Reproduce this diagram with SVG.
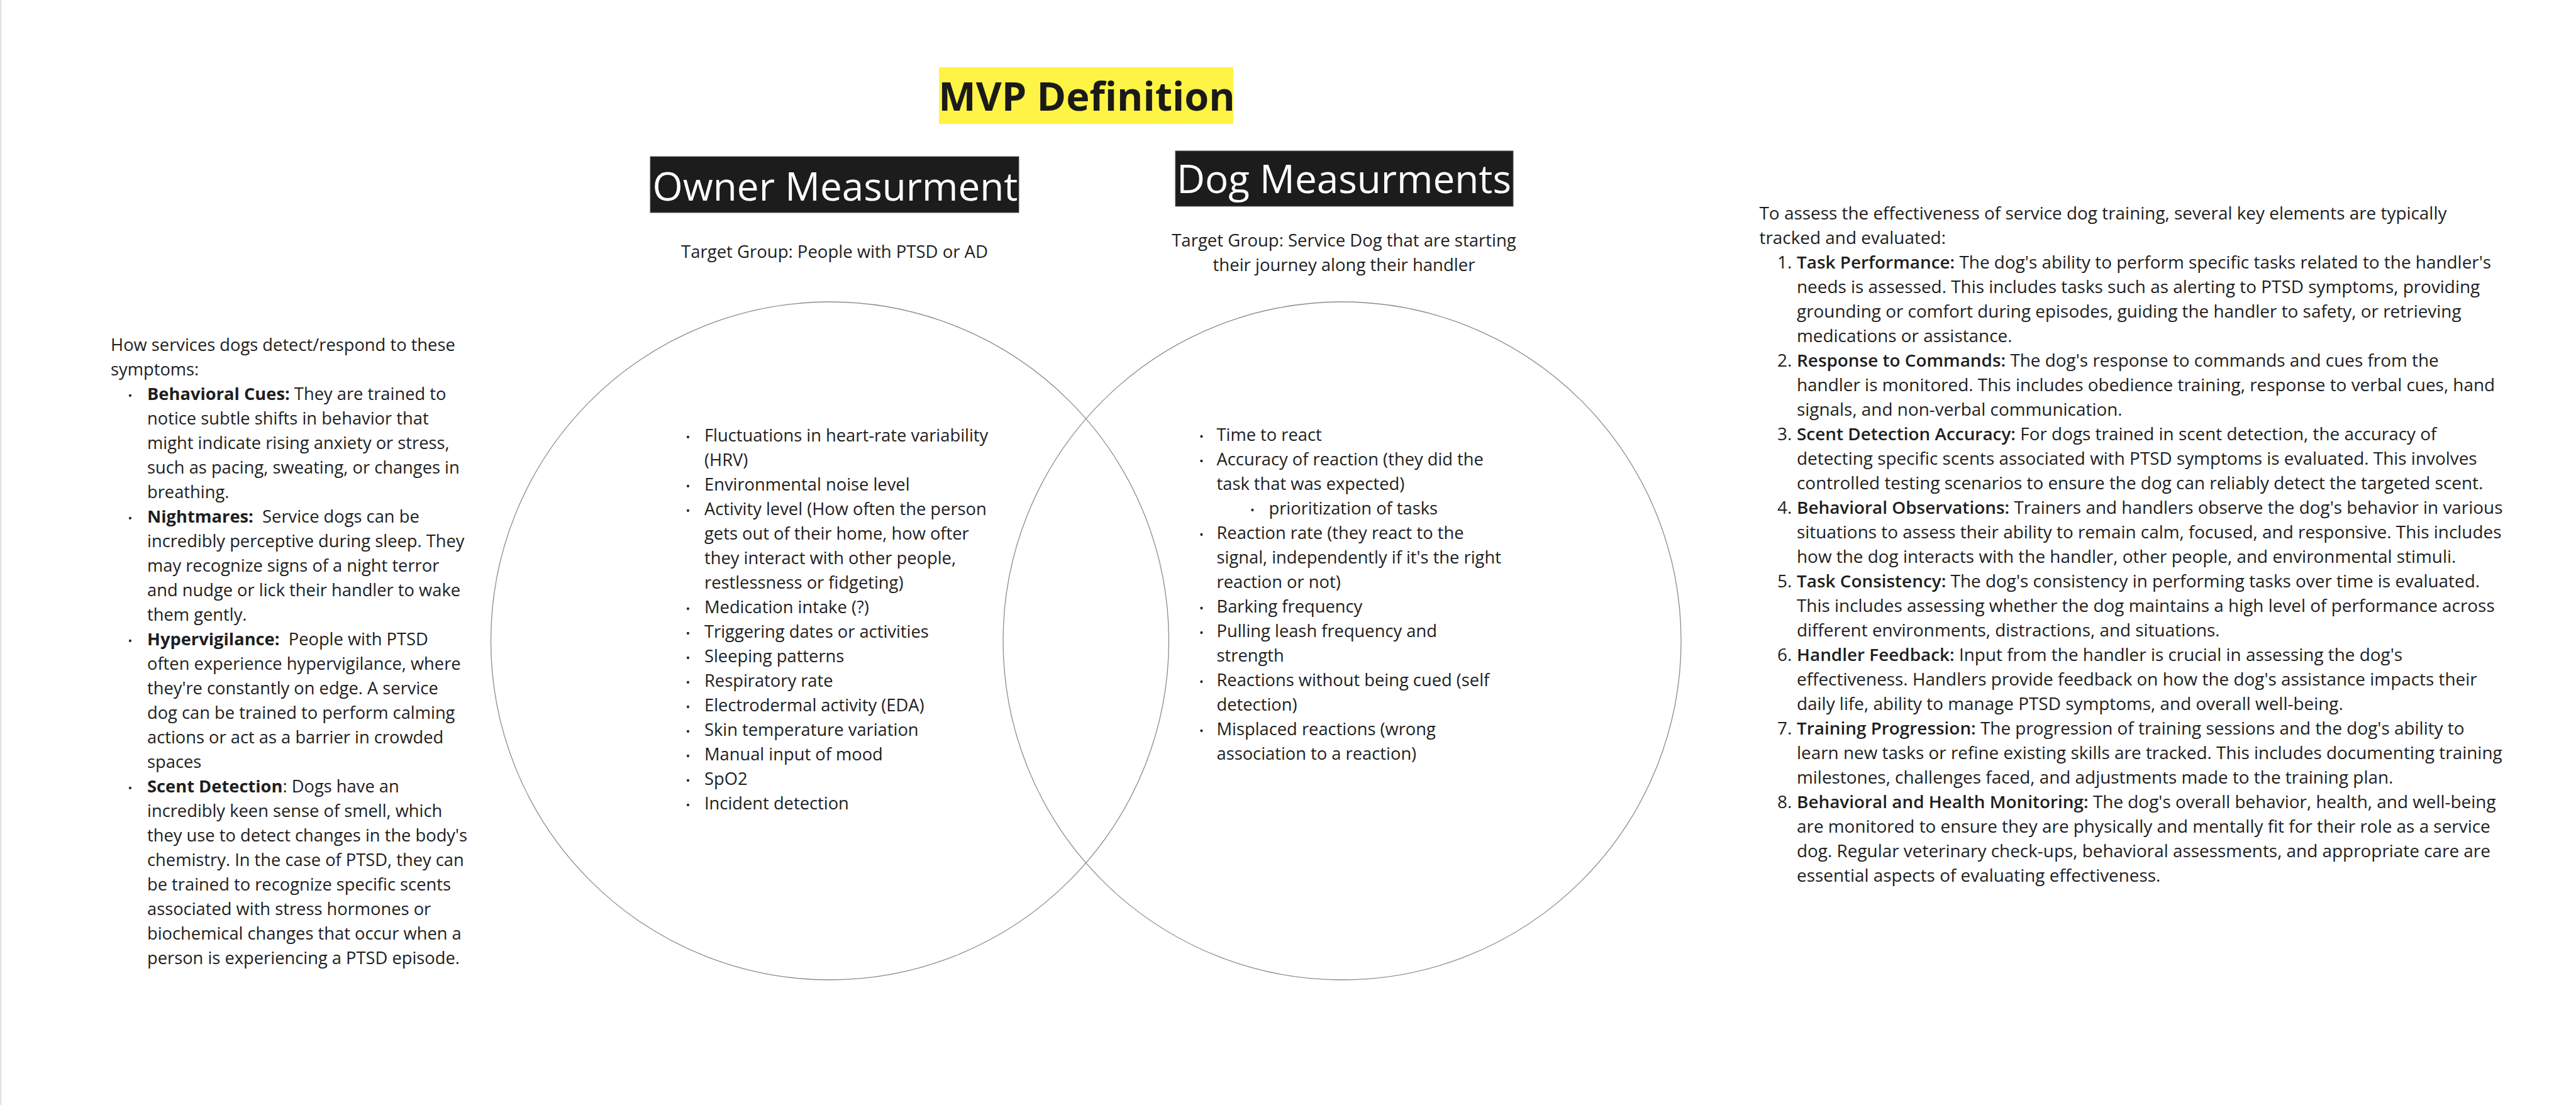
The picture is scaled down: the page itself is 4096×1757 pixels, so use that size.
<svg xmlns="http://www.w3.org/2000/svg" width="4096" height="1757" viewBox="0 0 4096 1757">
<style>
.t{font-family:"Open Sans","Noto Sans","DejaVu Sans",sans-serif;font-size:27.3px;fill:#1e1e1e;}
.r{font-size:27.9px;}
.b{font-weight:700;}
.sb{font-weight:600;}
.bul{font-family:"Open Sans","Noto Sans","DejaVu Sans",sans-serif;font-size:18px;fill:#1e1e1e;text-anchor:middle;}
.hd{font-family:"Open Sans","Noto Sans","DejaVu Sans",sans-serif;font-size:62px;fill:#ffffff;text-anchor:middle;}
.hbox{fill:#1c1c1c;stroke:#555;stroke-width:1;}
.circ{fill:none;stroke:#8c8c8c;stroke-width:1.3;}
.c{text-anchor:middle;}
</style>
<rect x="0" y="0" width="4096" height="1757" fill="#ffffff"/>
<rect x="0" y="0" width="2.5" height="1757" fill="#e4e4e4"/>

<g id="title">
<rect x="1493" y="107" width="468" height="90" fill="#fef445"/>
<text class="t b c" x="1728" y="176" style="font-size:63px;fill:#1a1a1a">MVP Definition</text>
</g>

<g id="owner-header">
<rect class="hbox" x="1034" y="249" width="586" height="89"/>
<text class="hd" x="1328" y="319">Owner Measurment</text>
</g>

<g id="dog-header">
<rect class="hbox" x="1869" y="240" width="537" height="88"/>
<text class="hd" x="2137" y="307">Dog Measurments</text>
</g>

<g id="owner-target">
<text class="t c" x="1327" y="410" style="font-size:27.5px">Target Group: People with PTSD or AD</text>
</g>

<g id="dog-target">
<text class="t c" x="2137" y="391.5" style="font-size:27.5px">Target Group: Service Dog that are starting</text>
<text class="t c" x="2137" y="430.5" style="font-size:27.5px">their journey along their handler</text>
</g>

<g id="owner-circle">
<circle class="circ" cx="1319.5" cy="1019" r="539"/>
</g>
<g id="dog-circle">
<circle class="circ" cx="2134" cy="1019" r="539"/>
</g>

<g id="connectors"></g>

<g id="owner-list">
<text class="bul" x="1094" y="701.5">•</text><text class="t" x="1120" y="701.5">Fluctuations in heart-rate variability</text>
<text class="t" x="1120" y="740.5">(HRV)</text>
<text class="bul" x="1094" y="779.5">•</text><text class="t" x="1120" y="779.5">Environmental noise level</text>
<text class="bul" x="1094" y="818.5">•</text><text class="t" x="1120" y="818.5">Activity level (How often the person</text>
<text class="t" x="1120" y="857.5">gets out of their home, how ofter</text>
<text class="t" x="1120" y="896.5">they interact with other people,</text>
<text class="t" x="1120" y="935.5">restlessness or fidgeting)</text>
<text class="bul" x="1094" y="974.5">•</text><text class="t" x="1120" y="974.5">Medication intake (?)</text>
<text class="bul" x="1094" y="1013.5">•</text><text class="t" x="1120" y="1013.5">Triggering dates or activities</text>
<text class="bul" x="1094" y="1052.5">•</text><text class="t" x="1120" y="1052.5">Sleeping patterns</text>
<text class="bul" x="1094" y="1091.5">•</text><text class="t" x="1120" y="1091.5">Respiratory rate</text>
<text class="bul" x="1094" y="1130.5">•</text><text class="t" x="1120" y="1130.5">Electrodermal activity (EDA)</text>
<text class="bul" x="1094" y="1169.5">•</text><text class="t" x="1120" y="1169.5">Skin temperature variation</text>
<text class="bul" x="1094" y="1208.5">•</text><text class="t" x="1120" y="1208.5">Manual input of mood</text>
<text class="bul" x="1094" y="1247.5">•</text><text class="t" x="1120" y="1247.5">SpO2</text>
<text class="bul" x="1094" y="1286.5">•</text><text class="t" x="1120" y="1286.5">Incident detection</text>
</g>

<g id="dog-list">
<text class="bul" x="1910.5" y="701">•</text><text class="t" x="1934.5" y="701">Time to react</text>
<text class="bul" x="1910.5" y="740">•</text><text class="t" x="1934.5" y="740">Accuracy of reaction (they did the</text>
<text class="t" x="1934.5" y="779">task that was expected)</text>
<text class="bul" x="1991.5" y="818">•</text><text class="t" x="2017.5" y="818">prioritization of tasks</text>
<text class="bul" x="1910.5" y="857">•</text><text class="t" x="1934.5" y="857">Reaction rate (they react to the</text>
<text class="t" x="1934.5" y="896">signal, independently if it's the right</text>
<text class="t" x="1934.5" y="935">reaction or not)</text>
<text class="bul" x="1910.5" y="974">•</text><text class="t" x="1934.5" y="974">Barking frequency</text>
<text class="bul" x="1910.5" y="1013">•</text><text class="t" x="1934.5" y="1013">Pulling leash frequency and</text>
<text class="t" x="1934.5" y="1052">strength</text>
<text class="bul" x="1910.5" y="1091">•</text><text class="t" x="1934.5" y="1091">Reactions without being cued (self</text>
<text class="t" x="1934.5" y="1130">detection)</text>
<text class="bul" x="1910.5" y="1169">•</text><text class="t" x="1934.5" y="1169">Misplaced reactions (wrong</text>
<text class="t" x="1934.5" y="1208">association to a reaction)</text>
</g>

<g id="left-notes">
<text class="t" x="176" y="557.5">How services dogs detect/respond to these</text>
<text class="t" x="176" y="596.5">symptoms:</text>
<text class="bul" x="207" y="635.5">•</text><text class="t" x="234" y="635.5"><tspan class="b">Behavioral Cues:</tspan> They are trained to</text>
<text class="t" x="234" y="674.5">notice subtle shifts in behavior that</text>
<text class="t" x="234" y="713.5">might indicate rising anxiety or stress,</text>
<text class="t" x="234" y="752.5">such as pacing, sweating, or changes in</text>
<text class="t" x="234" y="791.5">breathing.</text>
<text class="bul" x="207" y="830.5">•</text><text class="t" x="234" y="830.5" xml:space="preserve"><tspan class="b">Nightmares:</tspan>  Service dogs can be</text>
<text class="t" x="234" y="869.5">incredibly perceptive during sleep. They</text>
<text class="t" x="234" y="908.5">may recognize signs of a night terror</text>
<text class="t" x="234" y="947.5">and nudge or lick their handler to wake</text>
<text class="t" x="234" y="986.5">them gently.</text>
<text class="bul" x="207" y="1025.5">•</text><text class="t" x="234" y="1025.5" xml:space="preserve"><tspan class="b">Hypervigilance:</tspan>  People with PTSD</text>
<text class="t" x="234" y="1064.5">often experience hypervigilance, where</text>
<text class="t" x="234" y="1103.5">they're constantly on edge. A service</text>
<text class="t" x="234" y="1142.5">dog can be trained to perform calming</text>
<text class="t" x="234" y="1181.5">actions or act as a barrier in crowded</text>
<text class="t" x="234" y="1220.5">spaces</text>
<text class="bul" x="207" y="1259.5">•</text><text class="t" x="234" y="1259.5"><tspan class="b">Scent Detection</tspan>: Dogs have an</text>
<text class="t" x="234" y="1298.5">incredibly keen sense of smell, which</text>
<text class="t" x="234" y="1337.5">they use to detect changes in the body's</text>
<text class="t" x="234" y="1376.5">chemistry. In the case of PTSD, they can</text>
<text class="t" x="234" y="1415.5">be trained to recognize specific scents</text>
<text class="t" x="234" y="1454.5">associated with stress hormones or</text>
<text class="t" x="234" y="1493.5">biochemical changes that occur when a</text>
<text class="t" x="234" y="1532.5">person is experiencing a PTSD episode.</text>
</g>

<g id="right-notes">
<text class="t r" x="2797.5" y="348.5">To assess the effectiveness of service dog training, several key elements are typically</text>
<text class="t r" x="2797.5" y="387.5">tracked and evaluated:</text>
<text class="t r" x="2826" y="426.5">1.</text><text class="t r" x="2857" y="426.5"><tspan class="sb">Task Performance:</tspan> The dog's ability to perform specific tasks related to the handler's</text>
<text class="t r" x="2857" y="465.5">needs is assessed. This includes tasks such as alerting to PTSD symptoms, providing</text>
<text class="t r" x="2857" y="504.5">grounding or comfort during episodes, guiding the handler to safety, or retrieving</text>
<text class="t r" x="2857" y="543.5">medications or assistance.</text>
<text class="t r" x="2826" y="582.5">2.</text><text class="t r" x="2857" y="582.5"><tspan class="sb">Response to Commands:</tspan> The dog's response to commands and cues from the</text>
<text class="t r" x="2857" y="621.5">handler is monitored. This includes obedience training, response to verbal cues, hand</text>
<text class="t r" x="2857" y="660.5">signals, and non-verbal communication.</text>
<text class="t r" x="2826" y="699.5">3.</text><text class="t r" x="2857" y="699.5"><tspan class="sb">Scent Detection Accuracy:</tspan> For dogs trained in scent detection, the accuracy of</text>
<text class="t r" x="2857" y="738.5">detecting specific scents associated with PTSD symptoms is evaluated. This involves</text>
<text class="t r" x="2857" y="777.5">controlled testing scenarios to ensure the dog can reliably detect the targeted scent.</text>
<text class="t r" x="2826" y="816.5">4.</text><text class="t r" x="2857" y="816.5"><tspan class="sb">Behavioral Observations:</tspan> Trainers and handlers observe the dog's behavior in various</text>
<text class="t r" x="2857" y="855.5">situations to assess their ability to remain calm, focused, and responsive. This includes</text>
<text class="t r" x="2857" y="894.5">how the dog interacts with the handler, other people, and environmental stimuli.</text>
<text class="t r" x="2826" y="933.5">5.</text><text class="t r" x="2857" y="933.5"><tspan class="sb">Task Consistency:</tspan> The dog's consistency in performing tasks over time is evaluated.</text>
<text class="t r" x="2857" y="972.5">This includes assessing whether the dog maintains a high level of performance across</text>
<text class="t r" x="2857" y="1011.5">different environments, distractions, and situations.</text>
<text class="t r" x="2826" y="1050.5">6.</text><text class="t r" x="2857" y="1050.5"><tspan class="sb">Handler Feedback:</tspan> Input from the handler is crucial in assessing the dog's</text>
<text class="t r" x="2857" y="1089.5">effectiveness. Handlers provide feedback on how the dog's assistance impacts their</text>
<text class="t r" x="2857" y="1128.5">daily life, ability to manage PTSD symptoms, and overall well-being.</text>
<text class="t r" x="2826" y="1167.5">7.</text><text class="t r" x="2857" y="1167.5"><tspan class="sb">Training Progression:</tspan> The progression of training sessions and the dog's ability to</text>
<text class="t r" x="2857" y="1206.5">learn new tasks or refine existing skills are tracked. This includes documenting training</text>
<text class="t r" x="2857" y="1245.5">milestones, challenges faced, and adjustments made to the training plan.</text>
<text class="t r" x="2826" y="1284.5">8.</text><text class="t r" x="2857" y="1284.5"><tspan class="sb">Behavioral and Health Monitoring:</tspan> The dog's overall behavior, health, and well-being</text>
<text class="t r" x="2857" y="1323.5">are monitored to ensure they are physically and mentally fit for their role as a service</text>
<text class="t r" x="2857" y="1362.5">dog. Regular veterinary check-ups, behavioral assessments, and appropriate care are</text>
<text class="t r" x="2857" y="1401.5">essential aspects of evaluating effectiveness.</text>
</g>
</svg>
